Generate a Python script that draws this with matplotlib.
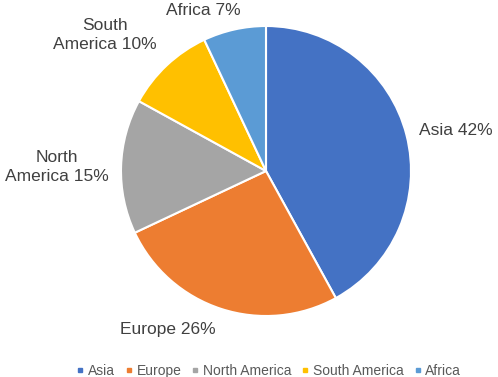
import matplotlib.pyplot as plt
from matplotlib.lines import Line2D

plt.rcParams['font.family'] = ['Liberation Sans', 'DejaVu Sans']

regions = ['Asia', 'Europe', 'North America', 'South America', 'Africa']
shares = [42, 26, 15, 10, 7]
colors = ['#4472C4', '#ED7D31', '#A5A5A5', '#FFC000', '#5B9BD5']
label_text = ['Asia 42%', 'Europe 26%', 'North\nAmerica 15%', 'South\nAmerica 10%', 'Africa 7%']
# label positions in pie-radius units
label_pos = [(1.31, 0.28), (-0.68, -1.095), (-1.44, 0.03), (-1.11, 0.94), (-0.43, 1.11)]

fig = plt.figure(figsize=(4.98, 3.77), dpi=100)
cx, cy, r = 266, 171, 145
W, H = 498, 377
ax = fig.add_axes([(cx - r) / W, (H - cy - r) / H, 2 * r / W, 2 * r / H])

ax.pie(shares, colors=colors, startangle=90, counterclock=False,
       wedgeprops=dict(edgecolor='white', linewidth=1.5))
ax.set_xlim(-1, 1)
ax.set_ylim(-1, 1)
ax.set_aspect('equal')
ax.axis('off')

for txt, (x, y) in zip(label_text, label_pos):
    ax.text(x, y, txt, ha='center', va='center', fontsize=12.5,
            color='#404040', clip_on=False, linespacing=1.35)

handles = [Line2D([], [], marker='s', linestyle='', markersize=3.5, color=c)
           for c in colors]
fig.legend(handles, regions, loc='center', bbox_to_anchor=(0.54, 1 - 371 / H),
           ncol=5, frameon=False, fontsize=10, handlelength=0.5,
           handletextpad=0.3, columnspacing=0.75, labelcolor='#595959')

fig.savefig('out.png', dpi=100)
